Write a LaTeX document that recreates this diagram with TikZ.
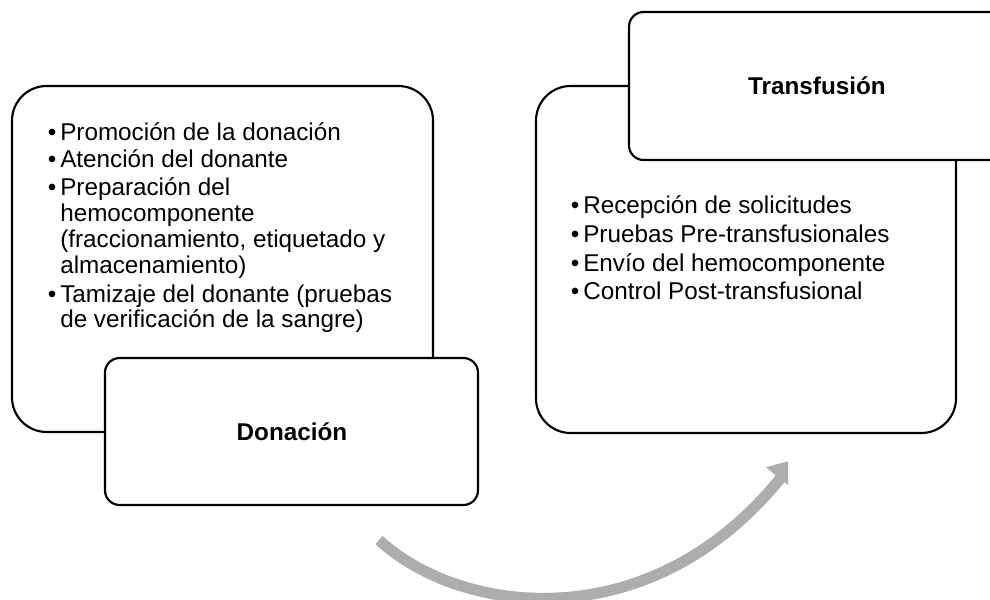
\documentclass[tikz,border=0pt]{standalone}
\usepackage{fontspec}
\setmainfont{Liberation Sans}
\usetikzlibrary{arrows.meta}
\definecolor{arrowgray}{RGB}{173,173,173}
\begin{document}
\begin{tikzpicture}[x=0.75pt,y=-0.75pt,
  bigbox/.style={draw=black, line width=1.6pt, rounded corners=26pt, fill=white, inner sep=0pt},
  smallbox/.style={draw=black, line width=1.6pt, rounded corners=11pt, fill=white, inner sep=0pt},
  itemtext/.style={anchor=base west, inner sep=0pt, font=\fontsize{18.2}{20}\selectfont},
  bul/.style={anchor=base, inner sep=0pt, font=\fontsize{18.2}{20}\selectfont},
  titletext/.style={font=\fontsize{18.2}{20}\selectfont\bfseries, inner sep=0pt}]
\useasboundingbox (0,0) rectangle (990,600);

% arrow
\coordinate (astart) at (379,540);
\coordinate (aend) at (796,459);
\begin{scope}
\clip (0,0) rectangle (788,600);
\draw[arrowgray, line width=8.3pt, -{Triangle[length=19pt,width=26pt]}]
  (astart) .. controls (460,615) and (650,640) .. (aend);
\end{scope}

% left group
\node[bigbox, minimum width=315.75pt, minimum height=259.5pt] (leftbox) at (222.5,259) {};
\node[smallbox, minimum width=279.75pt, minimum height=110.25pt] (donbox) at (291.5,431.5) {};
\node[titletext] (dontitle) at (292,432) {Donación};

\node[bul] (lb1) at (52,140) {•};
\node[itemtext] (l1) at (60,140) {Promoción de la donación};
\node[bul] (lb2) at (52,167) {•};
\node[itemtext] (l2) at (60,167) {Atención del donante};
\node[bul] (lb3) at (52,195) {•};
\node[itemtext] (l3a) at (60,195) {Preparación del};
\node[itemtext] (l3b) at (60,221) {hemocomponente};
\node[itemtext] (l3c) at (60,247) {(fraccionamiento, etiquetado y};
\node[itemtext] (l3d) at (60,273) {almacenamiento)};
\node[bul] (lb4) at (52,302) {•};
\node[itemtext] (l4a) at (60,302) {Tamizaje del donante (pruebas};
\node[itemtext] (l4b) at (60,327) {de verificación de la sangre)};

% right group
\node[bigbox, minimum width=315pt, minimum height=260.25pt] (rightbox) at (746,259.5) {};
\node[smallbox, minimum width=285.75pt, minimum height=111pt] (trabox) at (819.5,86) {};
\node[titletext] (tratitle) at (817,86) {Transfusión};

\node[bul] (rb1) at (575,213) {•};
\node[itemtext] (r1) at (583,213) {Recepción de solicitudes};
\node[bul] (rb2) at (575,242) {•};
\node[itemtext] (r2) at (583,242) {Pruebas Pre-transfusionales};
\node[bul] (rb3) at (575,271) {•};
\node[itemtext] (r3) at (583,271) {Envío del hemocomponente};
\node[bul] (rb4) at (575,299) {•};
\node[itemtext] (r4) at (583,299) {Control Post-transfusional};
\end{tikzpicture}
\end{document}
